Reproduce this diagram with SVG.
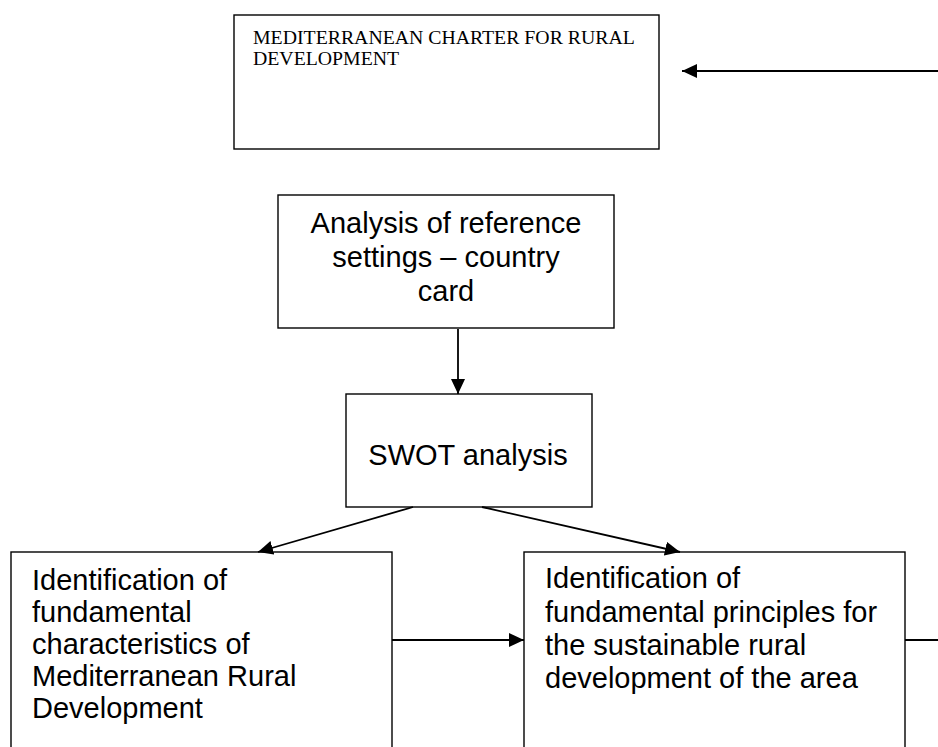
<svg xmlns="http://www.w3.org/2000/svg" width="938" height="747" viewBox="0 0 938 747">
<style>
.box{fill:#fff;stroke:#000;stroke-width:1.4}
.sans{font-family:"Liberation Sans",Arial,sans-serif;font-size:29px;fill:#000}
.serif{font-family:"Liberation Serif","Times New Roman",serif;font-size:19.8px;fill:#000}
.conn{stroke:#000;stroke-width:1.8;fill:none;marker-end:url(#arr)}
.plain{stroke:#000;stroke-width:1.8;fill:none}
</style>
<defs>
<marker id="arr" viewBox="0 0 15 14" refX="15" refY="7" markerWidth="15" markerHeight="14" orient="auto" markerUnits="userSpaceOnUse">
<path d="M0,0 L15,7 L0,14 z" fill="#000"/>
</marker>
</defs>
<rect width="938" height="747" fill="#fff"/>
<g id="charter">
<rect class="box" x="234" y="15" width="425" height="134"/>
<text class="serif" x="253" y="44">MEDITERRANEAN CHARTER FOR RURAL</text>
<text class="serif" x="253" y="65">DEVELOPMENT</text>
</g>
<g id="analysis">
<rect class="box" x="278" y="195" width="336" height="133"/>
<text class="sans" text-anchor="middle" x="446" y="233">Analysis of reference</text>
<text class="sans" text-anchor="middle" x="446" y="267">settings – country</text>
<text class="sans" text-anchor="middle" x="446" y="301">card</text>
</g>
<g id="swot">
<rect class="box" x="346" y="394" width="246" height="113"/>
<text class="sans" text-anchor="middle" x="468" y="465">SWOT analysis</text>
</g>
<g id="characteristics">
<rect class="box" x="11" y="552" width="381" height="220"/>
<text class="sans" x="32" y="590">Identification of</text>
<text class="sans" x="32" y="622">fundamental</text>
<text class="sans" x="32" y="654">characteristics of</text>
<text class="sans" x="32" y="686">Mediterranean Rural</text>
<text class="sans" x="32" y="718">Development</text>
</g>
<g id="principles">
<rect class="box" x="524" y="552" width="381" height="220"/>
<text class="sans" x="545" y="588">Identification of</text>
<text class="sans" x="545" y="622">fundamental principles for</text>
<text class="sans" x="545" y="655">the sustainable rural</text>
<text class="sans" x="545" y="688">development of the area</text>
</g>
<g id="connectors">
<line class="conn" x1="940" y1="71" x2="682" y2="71"/>
<line class="conn" x1="458" y1="329" x2="458" y2="394"/>
<line class="conn" x1="413" y1="507" x2="258" y2="552"/>
<line class="conn" x1="482" y1="507" x2="680" y2="552"/>
<line class="conn" x1="392" y1="640" x2="524" y2="640"/>
<line class="plain" x1="905" y1="640" x2="940" y2="640"/>
</g>
</svg>
